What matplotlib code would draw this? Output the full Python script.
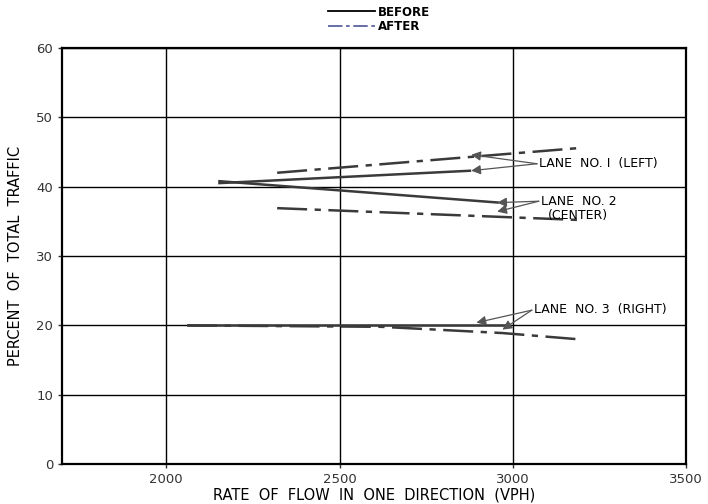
import matplotlib.pyplot as plt
from matplotlib.lines import Line2D

# lane shares (rate of flow vph, percent of total)
lane1_before_x = [2150, 2880]
lane1_before_y = [40.5, 42.3]
lane1_after_x = [2320, 3200]
lane1_after_y = [42.0, 45.6]

lane2_before_x = [2150, 2960]
lane2_before_y = [40.8, 37.7]
lane2_after_x = [2320, 3190]
lane2_after_y = [36.9, 35.2]

lane3_before_x = [2060, 2980]
lane3_before_y = [20.0, 20.0]
lane3_after_x = [2060, 2620, 2970, 3190]
lane3_after_y = [20.0, 19.8, 18.9, 18.0]

x_ticks = [2000, 2500, 3000, 3500]
y_ticks = [0, 10, 20, 30, 40, 50, 60]

line_col = '#3a3a3a'
arrow_col = '#555555'
after_dash = (12, 3, 2.5, 3)

fig = plt.figure(figsize=(7.08, 5.04), dpi=100)
ax = fig.add_axes([0.088, 0.079, 0.881, 0.826])

ax.plot(lane1_before_x, lane1_before_y, color=line_col, lw=1.8, solid_capstyle='butt')
ax.plot(lane2_before_x, lane2_before_y, color=line_col, lw=1.8, solid_capstyle='butt')
ax.plot(lane3_before_x, lane3_before_y, color=line_col, lw=1.8, solid_capstyle='butt')
for xs, ys in [(lane1_after_x, lane1_after_y), (lane2_after_x, lane2_after_y),
               (lane3_after_x, lane3_after_y)]:
    ax.plot(xs, ys, color=line_col, lw=1.8, dashes=after_dash, dash_capstyle='butt')

ax.set_xlim(1700, 3500)
ax.set_ylim(0, 60)
ax.set_xticks(x_ticks)
ax.set_yticks(y_ticks)
ax.grid(True, color='black', lw=1.0)
for s in ax.spines.values():
    s.set_linewidth(1.6)
ax.tick_params(length=3, width=1, labelsize=9.5, colors='#333333')
ax.set_xlabel('RATE  OF  FLOW  IN  ONE  DIRECTION  (VPH)', fontsize=10.5, labelpad=1)
ax.set_ylabel('PERCENT  OF  TOTAL  TRAFFIC', fontsize=10.5, labelpad=10)

arr = dict(arrowstyle='-|>', color=arrow_col, lw=0.9, mutation_scale=14, shrinkA=0, shrinkB=0)
fs = 9

ax.text(3075, 43.3, 'LANE  NO. I  (LEFT)', fontsize=fs, va='center', ha='left')
ax.annotate('', xy=(2880, 44.6), xytext=(3070, 43.3), arrowprops=arr)
ax.annotate('', xy=(2880, 42.3), xytext=(3070, 43.3), arrowprops=arr)

ax.text(3080, 37.9, 'LANE  NO. 2', fontsize=fs, va='center', ha='left')
ax.text(3100, 35.9, '(CENTER)', fontsize=fs, va='center', ha='left')
ax.annotate('', xy=(2955, 37.7), xytext=(3075, 37.9), arrowprops=arr)
ax.annotate('', xy=(2955, 36.4), xytext=(3075, 37.9), arrowprops=arr)

ax.text(3060, 22.3, 'LANE  NO. 3  (RIGHT)', fontsize=fs, va='center', ha='left')
ax.annotate('', xy=(2895, 20.4), xytext=(3055, 22.2), arrowprops=arr)
ax.annotate('', xy=(2970, 19.4), xytext=(3055, 22.2), arrowprops=arr)

handles = [Line2D([], [], color='black', lw=1.3),
           Line2D([], [], color='#5a64a0', lw=1.3, dashes=(8, 2, 2, 2))]
fig.legend(handles, ['BEFORE', 'AFTER'], loc='upper center', bbox_to_anchor=(0.535, 1.01),
           frameon=False, handlelength=4, handletextpad=0.2,
           labelspacing=0.1, prop={'weight': 'bold', 'size': 8.5})

fig.savefig('out.png', dpi=100)
